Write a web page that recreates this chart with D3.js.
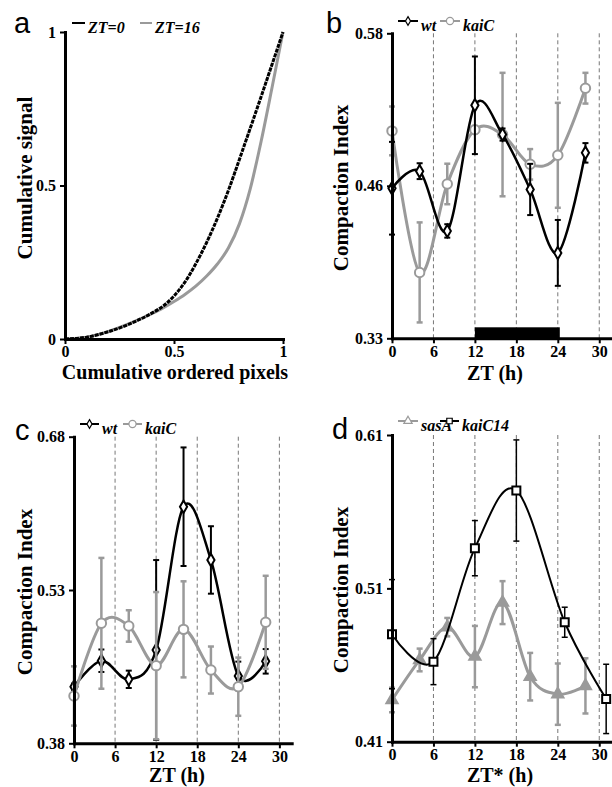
<!DOCTYPE html>
<html>
<head>
<meta charset="utf-8">
<script src="https://cdn.jsdelivr.net/npm/d3@7"></script>
<style>
  body { margin: 0; background: #fff; }
  svg { display: block; }
</style>
</head>
<body>
<script>
// PANEL A DATA
const cumPixels = [0, 0.1, 0.2, 0.3, 0.4, 0.45, 0.5, 0.55, 0.6, 0.65, 0.7, 0.75, 0.8, 0.85, 0.9, 0.95, 1];
const zt0Signal = [0, 0.006, 0.024, 0.05, 0.085, 0.107, 0.14, 0.185, 0.245, 0.315, 0.395, 0.485, 0.585, 0.687, 0.79, 0.895, 1];
const zt16Signal = [0, 0.006, 0.025, 0.052, 0.083, 0.101, 0.122, 0.145, 0.172, 0.205, 0.245, 0.297, 0.375, 0.49, 0.645, 0.82, 1];

// PANEL B DATA
const ztB = [0, 4, 8, 12, 16, 20, 24, 28];
const wtB = [0.453, 0.467, 0.418, 0.521, 0.497, 0.452, 0.400, 0.482];
const wtBErr = [0.038, 0.0065, 0.0055, 0.040, 0.005, 0.021, 0.027, 0.008];
const kaiCB = [0.500, 0.384, 0.4565, 0.501, 0.497, 0.4726, 0.480, 0.535];
const kaiCBErr = [0.020, 0.041, 0.0166, 0.003, 0.0506, 0.0125, 0.043, 0.0126];
const darkPeriod = [12, 24];

// PANEL C DATA
const ztC = [0, 4, 8, 12, 16, 20, 24, 28];
const wtC = [0.4354, 0.4608, 0.4426, 0.4713, 0.6115, 0.5594, 0.4459, 0.4602];
const wtCErr = [0.003, 0.011, 0.0085, 0.088, 0.058, 0.033, 0.014, 0.012];
const kaiCC = [0.4263, 0.4974, 0.4948, 0.456, 0.4915, 0.4517, 0.4354, 0.4984];
const kaiCCErr = [0.029, 0.064, 0.0154, 0.072, 0.047, 0.023, 0.0285, 0.0455];

// PANEL D DATA
const ztSasA = [0, 4, 8, 12, 16, 20, 24, 28];
const sasA = [0.4372, 0.4633, 0.4847, 0.4655, 0.5007, 0.4524, 0.441, 0.4464];
const sasAErr = [0.008, 0.0074, 0.006, 0.020, 0.014, 0.0155, 0.020, 0.018];
const ztKaiC14 = [0, 6, 12, 18, 25, 31];
const kaiC14 = [0.4801, 0.4622, 0.5362, 0.5738, 0.4879, 0.4379];
const kaiC14Err = [0.0356, 0.015, 0.018, 0.033, 0.0098, 0.0226];

// TICKS
const ztTicks = [0, 6, 12, 18, 24, 30];
const ztTickLabels = ["0", "6", "12", "18", "24", "30"];
const dashedZT = [6, 12, 18, 24, 30];
const aTicks = [0, 0.5, 1];
const aTickLabels = ["0", "0.5", "1"];
const bYTicks = [0.33, 0.455, 0.58];
const bYLabels = ["0.33", "0.46", "0.58"];
const cYTicks = [0.38, 0.53, 0.68];
const cYLabels = ["0.38", "0.53", "0.68"];
const dYTicks = [0.41, 0.51, 0.61];
const dYLabels = ["0.41", "0.51", "0.61"];

const SERIF = "'Liberation Serif', 'Times New Roman', serif";
const SANS = "'Liberation Sans', Arial, sans-serif";
const GRAY = "#9a9a9a";

let svg = d3.select("body").append("svg")
  .attr("width", 612)
  .attr("height", 787);

const smooth = d3.curveCatmullRom.alpha(0);

// axes + titles for one panel
function drawAxes(g, x, y, opts) {
  const xa = g.append("g")
    .attr("transform", `translate(0, ${y.range()[0]})`)
    .call(d3.axisBottom(x).tickValues(opts.xTicks).tickFormat((d, i) => opts.xLabels[i])
      .tickSize(5).tickSizeOuter(0).tickPadding(2));
  const ya = g.append("g")
    .attr("transform", `translate(${x.range()[0]}, 0)`)
    .call(d3.axisLeft(y).tickValues(opts.yTicks).tickFormat((d, i) => opts.yLabels[i])
      .tickSize(5).tickSizeOuter(0).tickPadding(4));
  [xa, ya].forEach(a => {
    a.select(".domain").attr("stroke-width", 3).attr("stroke-linecap", "square");
    a.selectAll(".tick line").attr("stroke-width", 2);
    a.selectAll(".tick text")
      .attr("font-family", SERIF).attr("font-weight", "bold").attr("font-size", 16).attr("fill", "#000");
  });

  g.append("text")
    .attr("x", opts.xTitlePos[0]).attr("y", opts.xTitlePos[1])
    .attr("text-anchor", "middle")
    .attr("font-family", SERIF).attr("font-weight", "bold").attr("font-size", 20)
    .text(opts.xTitle);
  g.append("text")
    .attr("transform", `translate(${opts.yTitlePos[0]}, ${opts.yTitlePos[1]}) rotate(-90)`)
    .attr("text-anchor", "middle")
    .attr("font-family", SERIF).attr("font-weight", "bold").attr("font-size", 21)
    .text(opts.yTitle);
  g.append("text")
    .attr("x", opts.letterPos[0]).attr("y", opts.letterPos[1])
    .attr("font-family", SANS).attr("font-size", 29)
    .text(opts.letter);
}

function drawDashes(g, x, y) {
  g.selectAll(".vdash")
    .data(dashedZT)
    .enter()
    .append("line")
    .attr("x1", d => x(d)).attr("x2", d => x(d))
    .attr("y1", y.range()[1]).attr("y2", y.range()[0])
    .attr("stroke", "#777").attr("stroke-width", 1)
    .attr("stroke-dasharray", "4,3");
}

function drawSeries(g, x, y, xs, vals, errs, color, symbol, symSize, filled, lineW) {
  const pts = xs.map((t, i) => ({ t: t, v: vals[i], e: errs[i] }));
  // error bars
  const eb = g.append("g").attr("stroke", color).attr("stroke-width", lineW - 0.5);
  pts.forEach(p => {
    eb.append("line").attr("x1", x(p.t)).attr("x2", x(p.t))
      .attr("y1", y(p.v - p.e)).attr("y2", y(p.v + p.e));
    [p.v - p.e, p.v + p.e].forEach(v => {
      eb.append("line").attr("x1", x(p.t) - 3).attr("x2", x(p.t) + 3)
        .attr("y1", y(v)).attr("y2", y(v));
    });
  });
  // smooth line
  const line = d3.line().x(d => x(d.t)).y(d => y(d.v)).curve(smooth);
  g.append("path")
    .datum(pts)
    .attr("fill", "none")
    .attr("stroke", color)
    .attr("stroke-width", lineW)
    .attr("d", line);
  // markers
  g.selectAll(null)
    .data(pts)
    .enter()
    .append("path")
    .attr("transform", d => `translate(${x(d.t)}, ${y(d.v)})`)
    .attr("d", d3.symbol().type(symbol).size(symSize))
    .attr("fill", filled ? color : "#fff")
    .attr("stroke", color)
    .attr("stroke-width", 2);
}

function drawLegend(g, items) {
  items.forEach(it => {
    g.append("line")
      .attr("x1", it.x).attr("x2", it.x + it.w)
      .attr("y1", it.y).attr("y2", it.y)
      .attr("stroke", it.color).attr("stroke-width", 2);
    if (it.symbol) {
      g.append("path")
        .attr("transform", `translate(${it.x + it.w / 2}, ${it.y})`)
        .attr("d", d3.symbol().type(it.symbol).size(it.size))
        .attr("fill", "#fff").attr("stroke", it.color).attr("stroke-width", 1.2);
    }
    g.append("text")
      .attr("x", it.x + it.w + 3).attr("y", it.y + 10)
      .attr("font-family", SERIF).attr("font-weight", "bold").attr("font-style", "italic")
      .attr("font-size", 16)
      .text(it.label);
  });
}

// PANEL A
{
  const g = svg.append("g");
  const x = d3.scaleLinear().domain([0, 1]).range([65, 283]);
  const y = d3.scaleLinear().domain([0, 1]).range([339, 32]);
  const line = d3.line().x(d => x(d[0])).y(d => y(d[1])).curve(d3.curveMonotoneX);
  g.append("path")
    .datum(cumPixels.map((p, i) => [p, zt16Signal[i]]))
    .attr("fill", "none").attr("stroke", GRAY).attr("stroke-width", 3)
    .attr("d", line);
  g.append("path")
    .datum(cumPixels.map((p, i) => [p, zt0Signal[i]]))
    .attr("fill", "none").attr("stroke", "#000").attr("stroke-width", 3)
    .attr("stroke-dasharray", "4,1")
    .attr("d", line);
  drawAxes(g, x, y, {
    xTicks: aTicks, xLabels: aTickLabels, yTicks: aTicks, yLabels: aTickLabels,
    xTitle: "Cumulative ordered pixels", xTitlePos: [175, 379],
    yTitle: "Cumulative signal", yTitlePos: [32, 178],
    letter: "a", letterPos: [14, 33]
  });
  drawLegend(g, [
    { x: 72, w: 13, y: 23, color: "#000", label: "ZT=0" },
    { x: 140, w: 12, y: 23, color: GRAY, label: "ZT=16" }
  ]);
}

// PANEL B
{
  const g = svg.append("g");
  const x = d3.scaleLinear().domain([0, 31.7]).range([392, 611]);
  const y = d3.scaleLinear().domain([0.33, 0.58]).range([338.3, 33.3]);
  drawDashes(g, x, y);
  g.append("rect")
    .attr("x", x(darkPeriod[0])).attr("width", x(darkPeriod[1]) - x(darkPeriod[0]) + 2)
    .attr("y", y(0.33) - 11).attr("height", 11)
    .attr("fill", "#000");
  drawSeries(g, x, y, ztB, kaiCB, kaiCBErr, GRAY, d3.symbolCircle, 70, false, 3);
  drawSeries(g, x, y, ztB, wtB, wtBErr, "#000", d3.symbolDiamond, 45, false, 2.5);
  drawAxes(g, x, y, {
    xTicks: ztTicks, xLabels: ztTickLabels, yTicks: bYTicks, yLabels: bYLabels,
    xTitle: "ZT (h)", xTitlePos: [495, 380],
    yTitle: "Compaction Index", yTitlePos: [348, 188],
    letter: "b", letterPos: [326, 33]
  });
  drawLegend(g, [
    { x: 398, w: 20, y: 21, color: "#000", label: "wt", symbol: d3.symbolDiamond, size: 22 },
    { x: 440, w: 20, y: 21, color: GRAY, label: "kaiC", symbol: d3.symbolCircle, size: 40 }
  ]);
}

// PANEL C
{
  const g = svg.append("g");
  const x = d3.scaleLinear().domain([0, 31.8]).range([74, 291.7]);
  const y = d3.scaleLinear().domain([0.38, 0.68]).range([743.3, 436.7]);
  drawDashes(g, x, y);
  drawSeries(g, x, y, ztC, wtC, wtCErr, "#000", d3.symbolDiamond, 45, false, 2.5);
  drawSeries(g, x, y, ztC, kaiCC, kaiCCErr, GRAY, d3.symbolCircle, 70, false, 3);
  drawAxes(g, x, y, {
    xTicks: ztTicks, xLabels: ztTickLabels, yTicks: cYTicks, yLabels: cYLabels,
    xTitle: "ZT (h)", xTitlePos: [177, 782],
    yTitle: "Compaction Index", yTitlePos: [32, 592],
    letter: "c", letterPos: [15, 440]
  });
  drawLegend(g, [
    { x: 80, w: 19, y: 424, color: "#000", label: "wt", symbol: d3.symbolDiamond, size: 22 },
    { x: 123, w: 19, y: 424, color: GRAY, label: "kaiC", symbol: d3.symbolCircle, size: 40 }
  ]);
}

// PANEL D
{
  const g = svg.append("g");
  const x = d3.scaleLinear().domain([0, 31.7]).range([392, 611]);
  const y = d3.scaleLinear().domain([0.41, 0.61]).range([741.7, 435]);
  drawDashes(g, x, y);
  drawSeries(g, x, y, ztSasA, sasA, sasAErr, GRAY, d3.symbolTriangle, 55, true, 3);
  drawSeries(g, x, y, ztKaiC14, kaiC14, kaiC14Err, "#000", d3.symbolSquare, 64, false, 2);
  drawAxes(g, x, y, {
    xTicks: ztTicks, xLabels: ztTickLabels, yTicks: dYTicks, yLabels: dYLabels,
    xTitle: "ZT* (h)", xTitlePos: [500, 782],
    yTitle: "Compaction Index", yTitlePos: [348, 590],
    letter: "d", letterPos: [332, 439]
  });
  drawLegend(g, [
    { x: 398, w: 20, y: 421, color: GRAY, label: "sasA", symbol: d3.symbolTriangle, size: 30 },
    { x: 440, w: 19, y: 421, color: "#000", label: "kaiC14", symbol: d3.symbolSquare, size: 30 }
  ]);
}
</script>
</body>
</html>
